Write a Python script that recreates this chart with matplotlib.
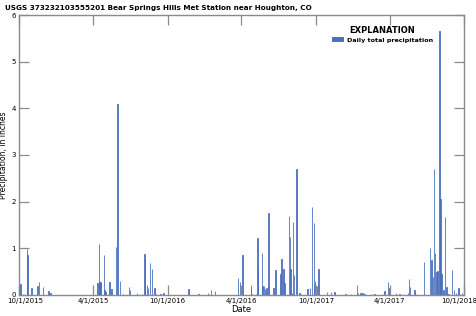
import pandas as pd
import matplotlib
matplotlib.use("Agg")
import matplotlib.pyplot as plt
import matplotlib.transforms as mtransforms

plt.rcParams['font.family'] = ['Liberation Sans Narrow', 'DejaVu Sans']

TITLE = "USGS 373232103555201 Bear Springs Hills Met Station near Houghton, CO"
START = pd.Timestamp("2015-10-01")

# days since 10/1/2015 and daily total precipitation, in inches
days = [2, 4, 20, 21, 31, 46, 49, 59, 73, 78, 93, 103, 112, 127,
        193, 197, 198, 199, 201, 210, 211, 213, 223, 228, 239, 243, 249, 256,
        271, 274, 291, 303, 309, 311, 316, 318, 323, 327, 334, 337, 349, 356,
        418, 442, 465, 473, 483, 539, 544, 551, 571, 572, 574, 584,
        587, 589, 598, 600, 604, 606, 610, 615, 627, 632, 644, 647, 651, 654,
        665, 667, 669, 672, 675, 678, 684, 691, 694, 711, 717, 722, 726, 727,
        729, 734, 738, 759, 769, 777, 804, 818, 832, 835, 841, 846, 851, 867,
        876, 896, 900, 909, 913, 929, 937, 958, 961, 963, 974, 978, 997,
        1013, 1016, 1019, 1022, 1025, 1028, 1031, 1036, 1038, 1041, 1046,
        1049, 1053, 1058, 1066, 1071, 1077, 1083, 1091]
precip = [0.20, 0.23, 0.98, 0.85, 0.15, 0.20, 0.27, 0.17, 0.08, 0.05, 0.01, 0.01, 0.01, 0.01,
          0.26, 1.09, 0.27, 0.10, 0.27, 0.85, 0.10, 0.06, 0.27, 0.12, 1.02, 4.09, 0.31, 0.02,
          0.18, 0.10, 0.05, 0.02, 0.88, 0.78, 0.22, 0.15, 0.68, 0.55, 0.15, 0.03, 0.02, 0.04,
          0.12, 0.03, 0.04, 0.10, 0.09, 0.37, 0.27, 0.86, 0.22, 0.15, 0.03, 0.02,
          1.22, 0.63, 0.90, 0.20, 0.20, 0.12, 0.15, 1.76, 0.15, 0.54, 0.45, 0.78, 0.55, 0.25,
          1.70, 1.25, 0.55, 0.05, 1.57, 0.43, 2.69, 0.04, 0.02, 0.12, 0.15, 1.88, 1.55, 0.20,
          0.31, 0.19, 0.56, 0.06, 0.06, 0.06, 0.03, 0.03, 0.22, 0.05, 0.04, 0.04, 0.03, 0.03,
          0.02, 0.03, 0.08, 0.28, 0.15, 0.05, 0.02, 0.05, 0.35, 0.18, 0.10, 0.03, 0.70,
          1.01, 0.74, 0.38, 2.70, 0.90, 0.49, 0.52, 5.65, 2.06, 0.46, 0.10,
          1.68, 0.18, 0.02, 0.54, 0.10, 0.05, 0.15, 0.04]

tick_dates = ["2015-10-01", "2016-04-01", "2016-10-01", "2017-04-01",
              "2017-10-01", "2018-04-01", "2018-10-01"]
# labels as printed on the original figure
tick_labels = ["10/1/2015", "4/1/2015", "10/1/2016", "4/1/2016",
               "10/1/2017", "4/1/2017", "10/1/2018"]

dates = [START + pd.Timedelta(days=d) for d in days]
ticks = pd.to_datetime(tick_dates)

fig = plt.figure(figsize=(4.77, 3.16), dpi=100)
ax = fig.add_axes([0.0398, 0.0665, 0.9329, 0.886])

bar_color = "#4a6fbd"
ax.bar(dates, precip, width=1.0, color=bar_color, edgecolor=bar_color,
       linewidth=0.7, alpha=0.85, label="Daily total precipitation")

ax.set_xlim(ticks[0], ticks[-1])
ax.set_ylim(0, 6)
ax.set_xticks(ticks)
ax.set_xticklabels(tick_labels)
ax.set_yticks(range(7))

gray = "#8a8a8a"
for s in ax.spines.values():
    s.set_color(gray)
    s.set_linewidth(1.0)
ax.tick_params(direction="in", length=7, width=0.9, color=gray,
               top=True, right=True, labelsize=5, pad=2, labelcolor="black")

# nudge first and last date labels inward like the original
lbls = ax.get_xticklabels()
lbls[0].set_transform(lbls[0].get_transform() +
                      mtransforms.ScaledTranslation(0.06, 0, fig.dpi_scale_trans))
lbls[-1].set_transform(lbls[-1].get_transform() +
                       mtransforms.ScaledTranslation(-0.05, 0, fig.dpi_scale_trans))

ax.set_xlabel("Date", fontsize=6, labelpad=1)
ax.set_ylabel("Precipitation, in inches", fontsize=5.5, labelpad=3)

fig.text(0.011, 0.985, TITLE, fontsize=5.2, fontweight="bold", va="top", ha="left")

leg = ax.legend(loc="upper right", bbox_to_anchor=(0.94, 0.975), frameon=False,
                title="EXPLANATION", fontsize=4.6, handlelength=1.8, handleheight=0.6,
                handletextpad=0.5, borderpad=0.2, labelspacing=0.3)
leg.get_title().set_fontweight("bold")
leg.get_title().set_fontsize(6)
for t in leg.get_texts():
    t.set_fontweight("bold")
for h in leg.legend_handles:
    h.set_alpha(1)

fig.savefig("out.png", dpi=100)
